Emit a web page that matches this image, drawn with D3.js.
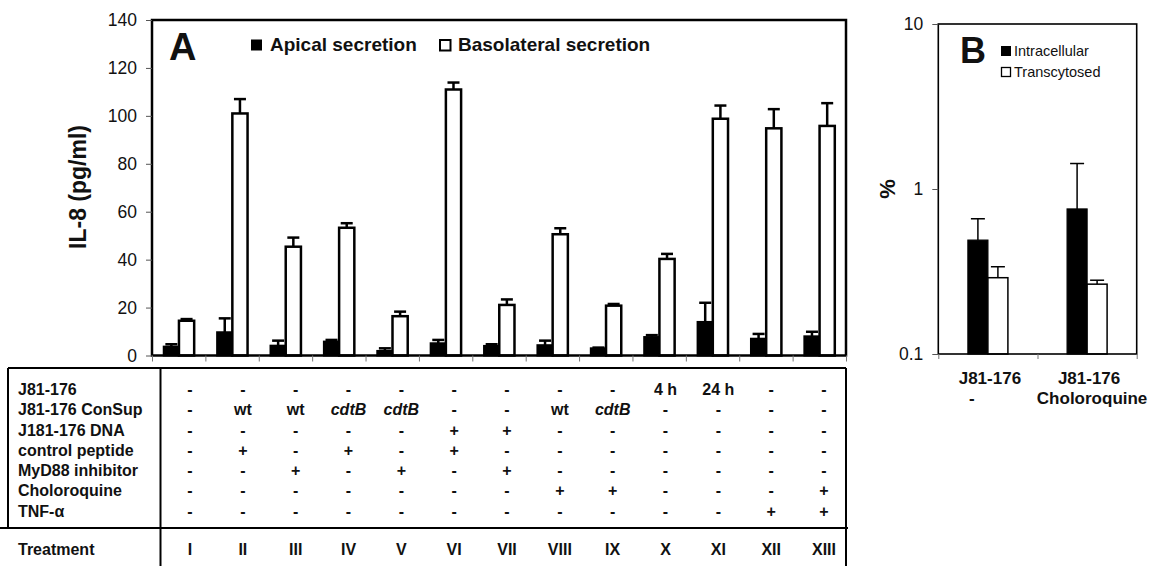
<!DOCTYPE html>
<html><head><meta charset="utf-8">
<script src="https://cdn.jsdelivr.net/npm/d3@7"></script>
<style>body{margin:0;background:#fff} text{font-family:Arial,"Liberation Sans",sans-serif;fill:#111}</style>
</head><body><svg id="c" width="1160" height="566"></svg>
<script>
// ---------- data ----------
const treatments = ["I","II","III","IV","V","VI","VII","VIII","IX","X","XI","XII","XIII"];
const apical     = [3.7, 9.7, 4.1, 5.8, 1.9, 5.1, 4.0, 4.3, 3.0, 7.7, 14.0, 7.0, 8.0];
const apicalErr  = [1.0, 5.8, 2.1, 0.7, 1.1, 1.4, 0.7, 1.9, 0.3, 0.8, 8.0, 2.0, 1.9];
const baso       = [14.5, 101, 45.4, 53.3, 16.4, 111, 21.1, 50.6, 20.8, 40.3, 98.8, 94.8, 95.8];
const basoErr    = [0.7, 6.0, 3.8, 1.9, 1.9, 2.9, 2.3, 2.5, 0.7, 2.1, 5.5, 8.0, 9.5];
const yTicksA    = [0, 20, 40, 60, 80, 100, 120, 140];
const seriesA    = ["Apical secretion", "Basolateral secretion"];

const rowLabels = ["J81-176","J81-176 ConSup","J181-176 DNA","control peptide","MyD88 inhibitor","Choloroquine","TNF-\u03b1"];
const rowCells = [
  ["-","-","-","-","-","-","-","-","-","4 h","24 h","-","-"],
  ["-","wt","wt","cdtB","cdtB","-","-","wt","cdtB","-","-","-","-"],
  ["-","-","-","-","-","+","+","-","-","-","-","-","-"],
  ["-","+","-","+","-","+","-","-","-","-","-","-","-"],
  ["-","-","+","-","+","-","+","-","-","-","-","-","-"],
  ["-","-","-","-","-","-","-","+","+","-","-","-","+"],
  ["-","-","-","-","-","-","-","-","-","-","-","+","+"]
];
const italicCells = ["cdtB"];

const groupsB   = ["J81-176", "J81-176"];
const groupsB2  = ["-", "Choloroquine"];
const intra     = [0.49, 0.757];
const intraErr  = [0.17, 0.67];
const transc    = [0.29, 0.265];
const transcErr = [0.048, 0.015];
const yTicksB   = [0.1, 1, 10];
const seriesB   = ["Intracellular", "Transcytosed"];

// ---------- panel A ----------
const svg = d3.select("#c");
const A = {l:152, r:846, t:20, b:355.5};
const x = d3.scaleBand().domain(treatments).range([A.l, A.r]);
const xs = d3.scaleBand().domain(["apical","baso"]).range([x.bandwidth()*0.22, x.bandwidth()*0.79]);
const y = d3.scaleLinear().domain([0,140]).range([A.b, A.t]);

const gA = svg.append("g");
const bw = xs.bandwidth();
function errBar(g, cx, v, e, ys, cap, sw){
  g.append("line").attr("x1",cx).attr("x2",cx).attr("y1",ys(v)).attr("y2",ys(v+e))
    .attr("stroke","#000").attr("stroke-width",sw);
  g.append("line").attr("x1",cx-cap/2).attr("x2",cx+cap/2).attr("y1",ys(v+e)).attr("y2",ys(v+e))
    .attr("stroke","#000").attr("stroke-width",sw);
}
treatments.forEach((t,i)=>{
  const xa = x(t)+xs("apical"), xb = x(t)+xs("baso");
  errBar(gA, xa+bw/2, apical[i], apicalErr[i], y, 12, 2.5);
  errBar(gA, xb+bw/2, baso[i], basoErr[i], y, 12, 2.5);
  gA.append("rect").attr("x",xa).attr("y",y(apical[i])).attr("width",bw).attr("height",y(0)-y(apical[i]))
    .attr("fill","#000").attr("stroke","#000").attr("stroke-width",2);
  gA.append("rect").attr("x",xb).attr("y",y(baso[i])).attr("width",bw).attr("height",y(0)-y(baso[i]))
    .attr("fill","#fff").attr("stroke","#000").attr("stroke-width",2.5);
});
gA.append("rect").attr("x",A.l).attr("y",A.t).attr("width",A.r-A.l).attr("height",A.b-A.t)
  .attr("fill","none").attr("stroke","#000").attr("stroke-width",2.5);

const axL = svg.append("g").attr("transform",`translate(${A.l},0)`)
  .call(d3.axisLeft(y).tickValues(yTicksA).tickSize(6).tickPadding(9));
axL.select(".domain").remove();
axL.selectAll("line").attr("stroke","#555");
axL.selectAll("text").style("font-size","17.5px").attr("fill","#111");

const xl = d3.scaleLinear().domain([0, treatments.length]).range([A.l, A.r]);
const axB = svg.append("g").attr("transform",`translate(0,${A.b})`)
  .call(d3.axisBottom(xl).tickValues(d3.range(0, treatments.length+1)).tickSize(6).tickFormat(""));
axB.select(".domain").remove();
axB.selectAll("line").attr("stroke","#777");

// legend A
svg.append("text").attr("x",169).attr("y",60).style("font-size","38px").style("font-weight","bold").text("A");
svg.append("rect").attr("x",251).attr("y",39.5).attr("width",11).attr("height",11).attr("fill","#000");
svg.append("text").attr("x",270).attr("y",51).style("font-size","19px").style("font-weight","bold").text(seriesA[0]);
svg.append("rect").attr("x",440).attr("y",40).attr("width",10.5).attr("height",10.5).attr("fill","#fff").attr("stroke","#000").attr("stroke-width",2);
svg.append("text").attr("x",458).attr("y",51).style("font-size","19px").style("font-weight","bold").text(seriesA[1]);

svg.append("text").attr("transform","translate(78,187) rotate(-90)").attr("text-anchor","middle")
  .attr("dy","0.35em").style("font-size","23px").style("font-weight","bold").text("IL-8 (pg/ml)");

// ---------- table ----------
const T = {l:8, top:368, sep:528, div:160.5, r:846, bot:566};
const tl = svg.append("g").attr("stroke","#000").attr("stroke-width",2);
tl.append("line").attr("x1",T.l).attr("x2",T.r).attr("y1",T.top).attr("y2",T.top);
tl.append("line").attr("x1",T.l).attr("x2",T.l).attr("y1",T.top).attr("y2",T.sep);
tl.append("line").attr("x1",T.div).attr("x2",T.div).attr("y1",T.top).attr("y2",T.bot);
tl.append("line").attr("x1",T.r).attr("x2",T.r).attr("y1",T.top).attr("y2",T.bot);
tl.append("line").attr("x1",0).attr("x2",T.r+2).attr("y1",T.sep).attr("y2",T.sep);

const xt = d3.scalePoint().domain(treatments).range([190, 824]);
const rowY = d3.scaleLinear().domain([0, rowLabels.length-1]).range([389.7, 511]);
rowLabels.forEach((lab,r)=>{
  svg.append("text").attr("x",18).attr("y",rowY(r)+5.5).style("font-size","16px").style("font-weight","bold").text(lab);
  rowCells[r].forEach((c,j)=>{
    svg.append("text").attr("x",xt(treatments[j])).attr("y",rowY(r)+5.5).attr("text-anchor","middle")
      .style("font-size","16px").style("font-weight","bold")
      .style("font-style", italicCells.includes(c) ? "italic" : "normal").text(c);
  });
});
svg.append("text").attr("x",18).attr("y",555).style("font-size","16px").style("font-weight","bold").text("Treatment");
treatments.forEach(t=>{
  svg.append("text").attr("x",xt(t)).attr("y",555).attr("text-anchor","middle")
    .style("font-size","16px").style("font-weight","bold").text(t);
});

// ---------- panel B ----------
const B = {l:938.3, r:1136.7, t:24, b:354};
const xB = d3.scaleBand().domain(d3.range(groupsB.length)).range([B.l, B.r]);
const xBs = d3.scaleBand().domain(["intra","trans"]).range([xB.bandwidth()/2-20, xB.bandwidth()/2+20]);
const yB = d3.scaleLog().domain([0.1, 10]).range([B.b, B.t]);
const gB = svg.append("g");
const bwB = xBs.bandwidth();
groupsB.forEach((g,i)=>{
  const xa = xB(i)+xBs("intra"), xb = xB(i)+xBs("trans");
  errBar(gB, xa+bwB/2, intra[i], intraErr[i], yB, 14, 1.5);
  errBar(gB, xb+bwB/2, transc[i], transcErr[i], yB, 14, 1.5);
  gB.append("rect").attr("x",xa).attr("y",yB(intra[i])).attr("width",bwB).attr("height",yB(0.1)-yB(intra[i]))
    .attr("fill","#000").attr("stroke","#000").attr("stroke-width",1.2);
  gB.append("rect").attr("x",xb).attr("y",yB(transc[i])).attr("width",bwB).attr("height",yB(0.1)-yB(transc[i]))
    .attr("fill","#fff").attr("stroke","#000").attr("stroke-width",1.5);
  svg.append("text").attr("x",xB(i)+xB.bandwidth()/2+2).attr("y",384).attr("text-anchor","middle")
    .style("font-size","17px").style("font-weight","bold").text(g);
  svg.append("text").attr("x",xB(i)+xB.bandwidth()/2 + (i===0 ? -16 : 5)).attr("y",404).attr("text-anchor","middle")
    .style("font-size","17px").style("font-weight","bold").text(groupsB2[i]);
});
gB.append("rect").attr("x",B.l).attr("y",B.t).attr("width",B.r-B.l).attr("height",B.b-B.t)
  .attr("fill","none").attr("stroke","#000").attr("stroke-width",1.6);

const axLB = svg.append("g").attr("transform",`translate(${B.l},0)`)
  .call(d3.axisLeft(yB).tickValues(yTicksB).tickFormat(d=>String(d)).tickSize(6).tickPadding(9));
axLB.select(".domain").remove();
axLB.selectAll("line").attr("stroke","#555");
axLB.selectAll("text").style("font-size","17.5px").attr("fill","#111");

const xlB = d3.scaleLinear().domain([0, groupsB.length]).range([B.l, B.r]);
const axBB = svg.append("g").attr("transform",`translate(0,${B.b})`)
  .call(d3.axisBottom(xlB).tickValues(d3.range(0, groupsB.length+1)).tickSize(5).tickFormat(""));
axBB.select(".domain").remove();
axBB.selectAll("line").attr("stroke","#777");

svg.append("text").attr("x",960).attr("y",62.5).style("font-size","36px").style("font-weight","bold").text("B");
svg.append("rect").attr("x",1001).attr("y",46).attr("width",10).attr("height",10).attr("fill","#000");
svg.append("text").attr("x",1014).attr("y",55.5).style("font-size","14.5px").text(seriesB[0]);
svg.append("rect").attr("x",1001.5).attr("y",67.5).attr("width",9).attr("height",9).attr("fill","#fff").attr("stroke","#000").attr("stroke-width",1.3);
svg.append("text").attr("x",1014).attr("y",77).style("font-size","14.5px").text(seriesB[1]);

svg.append("text").attr("transform","translate(887,189) rotate(-90)").attr("text-anchor","middle")
  .attr("dy","0.35em").style("font-size","22px").style("font-weight","bold").text("%");
</script></body></html>
